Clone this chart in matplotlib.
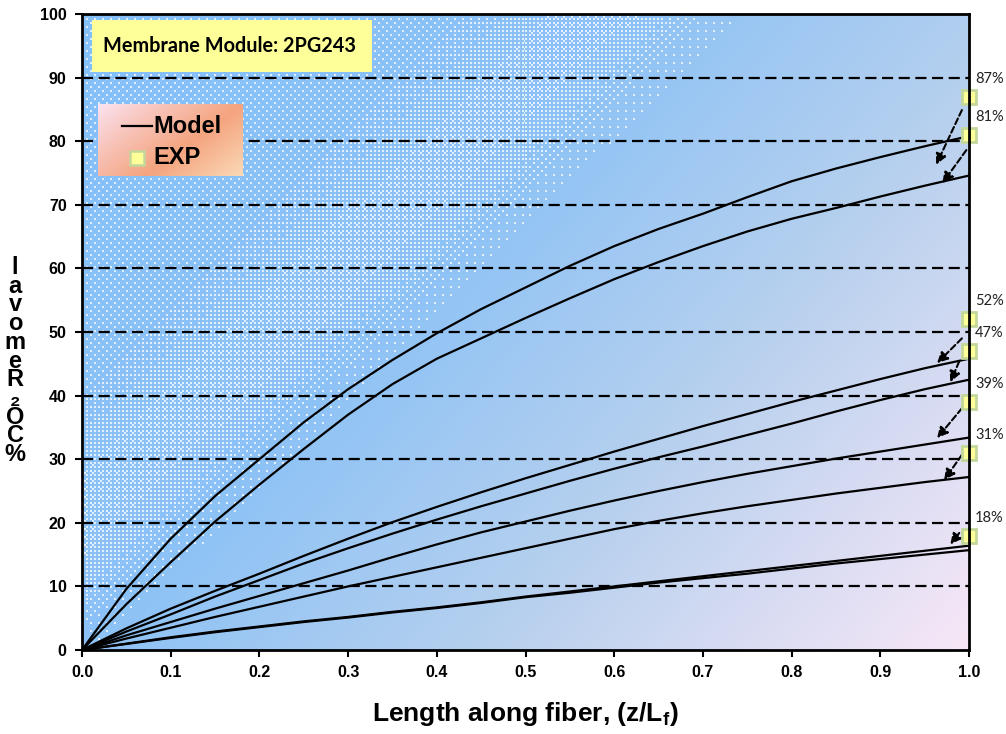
import numpy as np
import matplotlib
matplotlib.use("Agg")
import matplotlib.pyplot as plt
from matplotlib.patches import Rectangle
from matplotlib.colors import to_rgb

# ---------------- data ----------------
x_model = [0.0, 0.05, 0.1, 0.15, 0.2, 0.25, 0.3, 0.35, 0.4, 0.45, 0.5,
           0.55, 0.6, 0.65, 0.7, 0.75, 0.8, 0.85, 0.9, 0.95, 1.0]
model_1 = [0, 9.6, 17.5, 24.2, 30.0, 35.8, 41.0, 45.6, 49.8, 53.6, 57.0,
           60.4, 63.5, 66.2, 68.6, 71.2, 73.7, 75.7, 77.5, 79.2, 80.8]
model_2 = [0, 7.2, 13.8, 20.2, 26.0, 31.6, 37.0, 41.8, 45.8, 49.0, 52.2,
           55.3, 58.3, 61.0, 63.5, 65.8, 67.8, 69.5, 71.3, 73.0, 74.6]
model_3 = [0, 3.4, 6.5, 9.3, 12.0, 14.8, 17.5, 20.1, 22.5, 24.8, 27.0,
           29.1, 31.2, 33.2, 35.2, 37.1, 39.0, 40.8, 42.6, 44.3, 45.8]
model_4 = [0, 2.9, 5.6, 8.4, 11.0, 13.6, 16.0, 18.3, 20.5, 22.6, 24.6,
           26.6, 28.5, 30.3, 32.0, 33.8, 35.6, 37.5, 39.3, 41.0, 42.5]
model_5 = [0, 2.3, 4.4, 6.5, 8.5, 10.5, 12.5, 14.6, 16.6, 18.5, 20.2,
           21.9, 23.5, 25.0, 26.4, 27.7, 28.9, 30.1, 31.2, 32.3, 33.4]
model_6 = [0, 1.8, 3.5, 5.2, 6.8, 8.4, 10.0, 11.5, 13.0, 14.5, 16.0,
           17.5, 19.0, 20.3, 21.5, 22.6, 23.6, 24.6, 25.5, 26.4, 27.2]
model_7 = [0, 1.0, 2.0, 2.9, 3.7, 4.5, 5.2, 6.0, 6.7, 7.5, 8.4,
           9.2, 10.0, 10.8, 11.6, 12.4, 13.2, 14.0, 14.8, 15.6, 16.4]
model_8 = [0, 0.95, 1.9, 2.8, 3.6, 4.4, 5.1, 5.9, 6.6, 7.4, 8.3,
           9.0, 9.8, 10.6, 11.3, 12.0, 12.8, 13.6, 14.3, 15.0, 15.7]
models = [model_1, model_2, model_3, model_4, model_5, model_6, model_7, model_8]

exp_x = [1.0, 1.0, 1.0, 1.0, 1.0, 1.0, 1.0]
exp_y = [87, 81, 52, 47, 39, 31, 18]
exp_labels = ["87%", "81%", "52%", "47%", "39%", "31%", "18%"]

# arrow tails / heads (annotation geometry)
arrow_tail_x = [0.992, 0.997, 0.992, 0.989, 0.992, 0.992, 0.989]
arrow_tail_y = [84.9, 78.6, 49.0, 45.4, 38.0, 30.7, 18.4]
arrow_head_x = [0.963, 0.970, 0.964, 0.979, 0.964, 0.972, 0.979]
arrow_head_y = [76.3, 73.4, 45.1, 42.1, 33.3, 26.7, 16.6]

x_ticks = [0.0, 0.1, 0.2, 0.3, 0.4, 0.5, 0.6, 0.7, 0.8, 0.9, 1.0]
y_ticks = [0, 10, 20, 30, 40, 50, 60, 70, 80, 90, 100]
grid_y = [10, 20, 30, 40, 50, 60, 70, 80, 90]

# ---------------- figure ----------------
W, H = 1006, 734
fig = plt.figure(figsize=(W / 100, H / 100), dpi=100)
fig.patch.set_facecolor("white")
ax_l, ax_r, ax_t, ax_b = 82, 969, 14, 650
ax = fig.add_axes([ax_l / W, 1 - ax_b / H, (ax_r - ax_l) / W, (ax_b - ax_t) / H])
ax.set_xlim(0, 1)
ax.set_ylim(0, 100)

# background gradient
nx, ny = 444, 318
u = np.linspace(0, 1, nx)[None, :]
v = np.linspace(1, 0, ny)[:, None]
t = 0.62 * u + 0.38 * (1 - v)
stops = [0.0, 0.38, 0.66, 1.0]
cols = [to_rgb("#86C0FA"), to_rgb("#8CC2F6"), to_rgb("#B6D0EE"), to_rgb("#F8E7F7")]
img = np.zeros((ny, nx, 3))
for c in range(3):
    img[..., c] = np.interp(t, stops, [cc[c] for cc in cols])
ax.imshow(img, extent=[0, 1, 0, 100], aspect="auto", zorder=0, interpolation="bilinear")

# ordered-dither white dot texture (upper-left)
bayer = np.array([[0, 8, 2, 10], [12, 4, 14, 6], [3, 11, 1, 9], [15, 7, 13, 5]]) / 16.0
d = v - 0.08 - 1.37 * (u - 0.05)
dens = (0.07 + 0.22 * np.exp(-((d - 0.2) / 0.16) ** 2)) * np.clip((d + 0.03) / 0.12, 0, 1)
ii, jj = np.meshgrid(np.arange(nx), np.arange(ny))
thr = bayer[jj % 4, ii % 4]
mask = thr < dens
ov = np.zeros((ny, nx, 4))
ov[..., :3] = 1.0
ov[..., 3] = np.where(mask, 0.75, 0.0)
ax.imshow(ov, extent=[0, 1, 0, 100], aspect="auto", zorder=0.5, interpolation="nearest")

# gridlines
for gy in grid_y:
    ax.axhline(gy, color="black", lw=1.6, ls=(0, (5, 2.5)), zorder=1)

# model lines
for m in models:
    ax.plot(x_model, m, color="black", lw=1.6, zorder=3, solid_joinstyle="round")

# exp markers
ax.plot(exp_x, exp_y, ls="none", marker="s", ms=10, mfc="#FFFF99", mec="#C4D79B",
        mew=2.0, clip_on=False, zorder=5)

for lx, ly, lab in zip(exp_x, exp_y, exp_labels):
    ax.text(lx + 0.007, ly + 2.8, lab, fontsize=10.5, family="Lato", color="#222222",
            ha="left", va="center", clip_on=False, zorder=6)

for tx, ty, hx, hy in zip(arrow_tail_x, arrow_tail_y, arrow_head_x, arrow_head_y):
    ax.annotate("", xy=(hx, hy), xytext=(tx, ty),
                arrowprops=dict(arrowstyle="-|>", linestyle=(0, (3, 1.5)), lw=1.5,
                                color="black", mutation_scale=16, shrinkA=0, shrinkB=0),
                zorder=4)

# axes styling
for s in ax.spines.values():
    s.set_linewidth(2)
    s.set_color("black")
    s.set_zorder(10)
ax.set_xticks(x_ticks)
ax.set_yticks(y_ticks)
ax.set_xticklabels([f"{x:.1f}" for x in x_ticks])
ax.set_yticklabels([str(y) for y in y_ticks])
ax.tick_params(direction="out", length=5, width=1.5, pad=6)
for lab in ax.get_xticklabels() + ax.get_yticklabels():
    lab.set_fontfamily("Liberation Sans")
    lab.set_fontweight("bold")
    lab.set_fontsize(11.5)

ax.set_xlabel("Length along fiber, (z/L$_\\mathregular{f}$)", fontsize=19, fontweight="bold",
              family="Liberation Sans", labelpad=14)

# stacked y label (reads "% CO2 Removal" bottom to top)
ylab = "\n".join(["l", "a", "v", "o", "m", "e", "R", "\u2082", "O", "C", "%"])
fig.text(15 / W, 1 - 361 / H, ylab, fontsize=17, fontweight="bold",
         family=["Liberation Sans", "DejaVu Sans"], ha="center", va="center",
         multialignment="center", linespacing=0.76)

# title box
ax.add_patch(Rectangle((0.0113, 90.9), 0.3157, 8.15, transform=ax.transData,
                       facecolor="#FFFF99", edgecolor="none", zorder=7))
ax.text(0.166, 95.0, "Membrane Module: 2PG243", fontsize=14.3, fontweight="bold",
        family="Lato", ha="center", va="center", zorder=8)

# legend with gradient background
lg = fig.add_axes([98 / W, 1 - 176 / H, 145 / W, 72 / H])
gu = np.linspace(0, 1, 100)[None, :]
gv = np.linspace(1, 0, 50)[:, None]
gt = 0.6 * gu + 0.4 * (1 - gv)
gstops = [0.0, 0.25, 0.6, 1.0]
gcols = [to_rgb("#FBE3F0"), to_rgb("#F8C6BE"), to_rgb("#F4A47E"), to_rgb("#FBD9B8")]
gimg = np.zeros((50, 100, 3))
for c in range(3):
    gimg[..., c] = np.interp(gt, gstops, [cc[c] for cc in gcols])
lg.imshow(gimg, extent=[0, 1, 0, 1], aspect="auto", interpolation="bilinear")
lg.set_xlim(0, 1)
lg.set_ylim(0, 1)
lg.axis("off")
lg.plot([0.166, 0.372], [0.694, 0.694], color="black", lw=1.6)
lg.text(0.38, 0.694, "Model", fontsize=17, fontweight="bold", family="Liberation Sans",
        ha="left", va="center")
lg.plot([0.27], [0.25], ls="none", marker="s", ms=10, mfc="#FFFF99", mec="#C4D79B", mew=1.8)
lg.text(0.38, 0.25, "EXP", fontsize=17, fontweight="bold", family="Liberation Sans",
        ha="left", va="center")

fig.savefig("out.png", dpi=100)
